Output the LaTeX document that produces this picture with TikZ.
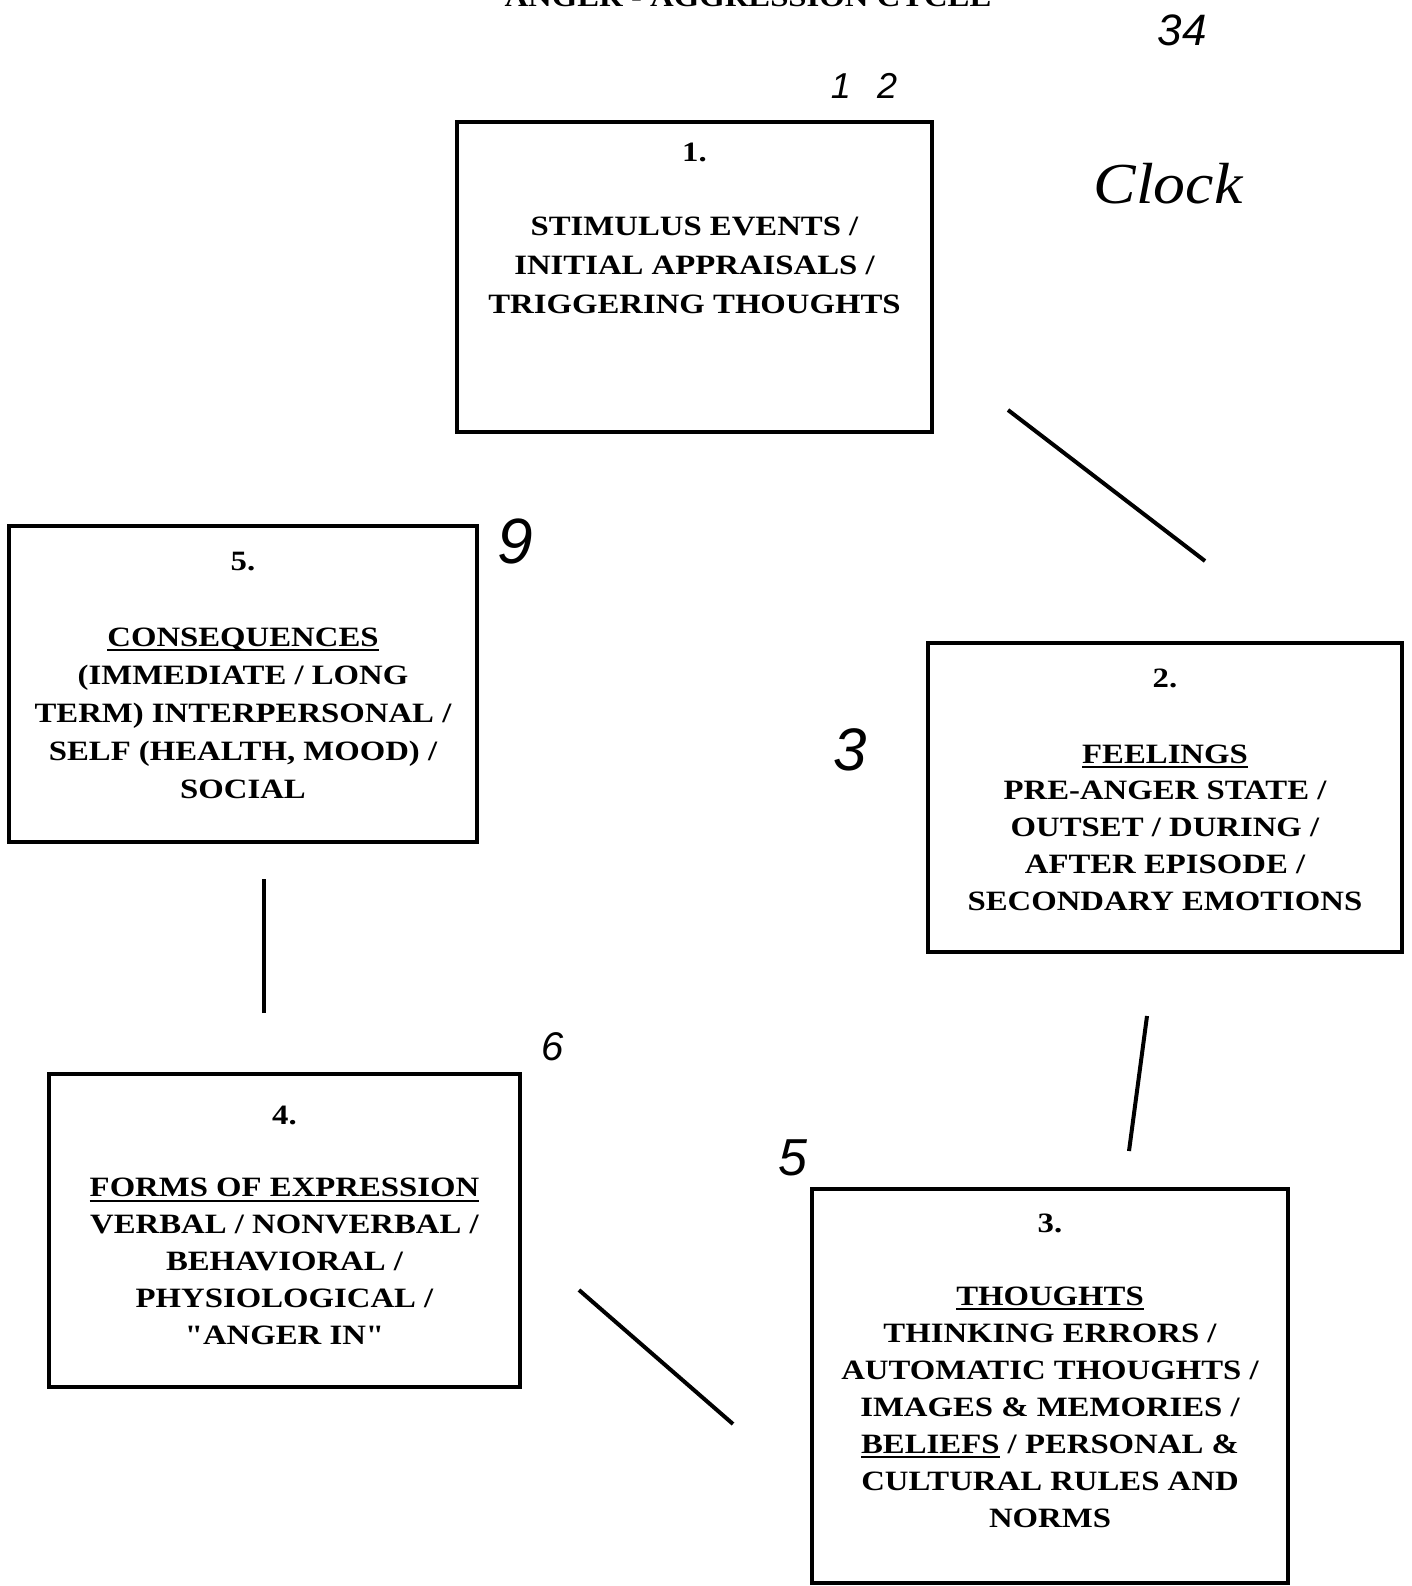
\documentclass[tikz,border=0pt]{standalone}
\usepackage{fontspec}
\setmainfont{Liberation Serif}
\newfontfamily\boxfont{Liberation Serif}[FakeStretch=1.17]
\newfontfamily\handsans{Liberation Sans}
\newfontfamily\handserif{Liberation Serif}[FakeStretch=1.1]
\newcommand\ulword[1]{\setbox0\hbox{#1}\rlap{\rule[-5pt]{\wd0}{2pt}}\box0\relax}
\begin{document}
\begin{tikzpicture}[x=1pt,y=-1pt,
  boxshape/.style={draw=black, line width=3.5pt, fill=none, inner sep=0pt},
  txt/.style={font=\boxfont\bfseries\fontsize{28}{37}\selectfont, inner sep=0pt, anchor=base},
  link/.style={draw=black, line width=4pt},
  hand/.style={font=\handsans\itshape, inner sep=0pt}]
\useasboundingbox[fill=white] (0,0) rectangle (1412,1586);

% title (cut off at the top of the page, as in the reference)
\node[txt] (title) at (748,7) {ANGER - AGGRESSION CYCLE};

% boxes
\node[boxshape, minimum width=475pt, minimum height=310pt] (b1) at (694.5,277) {};
\node[boxshape, minimum width=474pt, minimum height=309pt] (b2) at (1165,797.5) {};
\node[boxshape, minimum width=476pt, minimum height=394pt] (b3) at (1050,1386) {};
\node[boxshape, minimum width=471pt, minimum height=313pt] (b4) at (284.5,1230.5) {};
\node[boxshape, minimum width=468pt, minimum height=316pt] (b5) at (243,684) {};

% box 1
\node[txt] (n1) at (694.5,162) {1.};
\foreach [count=\i] \s in {{STIMULUS EVENTS /},{INITIAL APPRAISALS /},{TRIGGERING THOUGHTS}}
  \node[txt] (t1-\i) at (694.5,236+38.5*\i-38.5) {\s};

% box 2
\node[txt] (n2) at (1165,687) {2.};
\foreach [count=\i] \s in {{\ulword{FEELINGS}},{PRE-ANGER STATE /},{OUTSET / DURING /},{AFTER EPISODE /},{SECONDARY EMOTIONS}}
  \node[txt] (t2-\i) at (1165,763+36.8*\i-36.8) {\s};

% box 3
\node[txt] (n3) at (1050,1232) {3.};
\foreach [count=\i] \s in {{\ulword{THOUGHTS}},{THINKING ERRORS /},{AUTOMATIC THOUGHTS /},{IMAGES \& MEMORIES /},{\ulword{BELIEFS} / PERSONAL \&},{CULTURAL RULES AND},{NORMS}}
  \node[txt] (t3-\i) at (1050,1305+37.1*\i-37.1) {\s};

% box 4
\node[txt] (n4) at (284.5,1124) {4.};
\foreach [count=\i] \s in {{\ulword{FORMS OF EXPRESSION}},{VERBAL / NONVERBAL /},{BEHAVIORAL /},{PHYSIOLOGICAL /},{"ANGER IN"}}
  \node[txt] (t4-\i) at (284.5,1196.5+36.9*\i-36.9) {\s};

% box 5
\node[txt] (n5) at (243,570) {5.};
\foreach [count=\i] \s in {{\ulword{CONSEQUENCES}},{(IMMEDIATE / LONG},{TERM) INTERPERSONAL /},{SELF (HEALTH, MOOD) /},{SOCIAL}}
  \node[txt] (t5-\i) at (243,646+38.2*\i-38.2) {\s};

% connectors (with gaps to the boxes)
\coordinate (c12a) at (1008,410);  \coordinate (c12b) at (1205,561);
\coordinate (c23a) at (1147,1016); \coordinate (c23b) at (1129,1151);
\coordinate (c34a) at (733,1424);  \coordinate (c34b) at (579,1290);
\coordinate (c45a) at (264,1013);  \coordinate (c45b) at (264,879);
\draw[link] (c12a) -- (c12b);
\draw[link] (c23a) -- (c23b);
\draw[link] (c34a) -- (c34b);
\draw[link] (c45a) -- (c45b);

% handwritten marks
\node[hand, font=\handsans\itshape\fontsize{36}{36}\selectfont] (h12) at (864,86) {1\hspace{26pt}2};
\node[hand, font=\handsans\itshape\fontsize{44}{44}\selectfont] (h34) at (1182,30) {34};
\node[hand, font=\handserif\itshape\fontsize{58}{58}\selectfont] (hclock) at (1168,184) {Clock};
\node[hand, font=\handsans\itshape\fontsize{64}{64}\selectfont] (h9) at (515,541) {9};
\node[hand, font=\handsans\itshape\fontsize{60}{60}\selectfont] (h3) at (850,750) {3};
\node[hand, font=\handsans\itshape\fontsize{40}{40}\selectfont] (h6) at (553,1047) {6};
\node[hand, font=\handsans\itshape\fontsize{52}{52}\selectfont] (h5) at (793,1158) {5};
\end{tikzpicture}
\end{document}
